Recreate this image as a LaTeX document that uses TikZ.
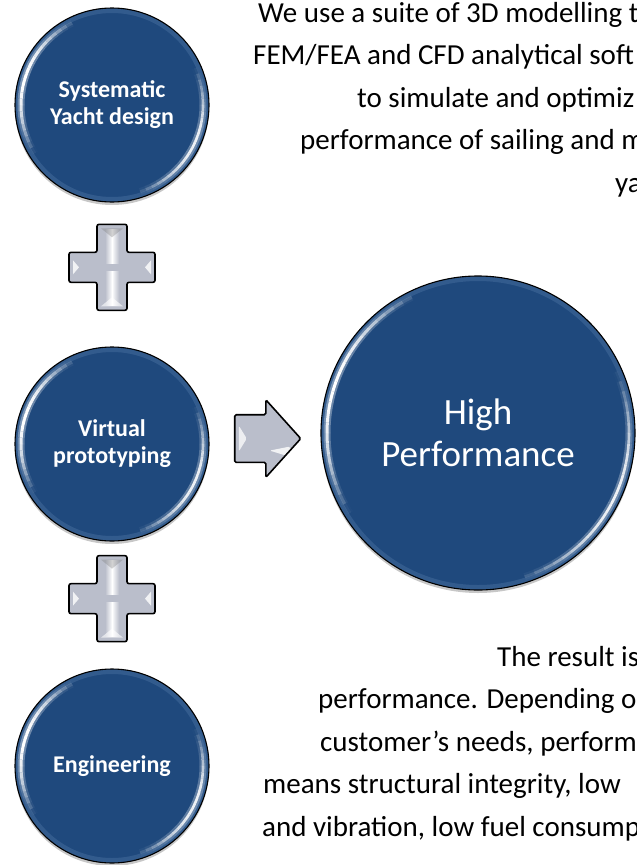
\documentclass[tikz,border=0pt]{standalone}
\usepackage{fontspec}
\setmainfont{Carlito}
\usetikzlibrary{shapes.arrows,positioning,calc}

\definecolor{ballblue}{RGB}{31,73,125}
\definecolor{rimblue}{RGB}{110,145,190}
\definecolor{glossgray}{RGB}{186,190,203}

\tikzset{
  % glossy plus sign between two balls
  plussign/.pic={
    \path[draw=black, line width=1.6pt, rounded corners=2pt, fill=glossgray]
      (-15,43) -- (15,43) -- (15,15) -- (43,15) -- (43,-15) -- (15,-15) -- (15,-43)
      -- (-15,-43) -- (-15,-15) -- (-43,-15) -- (-43,15) -- (-15,15) -- cycle;
    \shade[left color=glossgray, right color=glossgray, middle color=white] (-7,38) rectangle (7,4);
    \shade[left color=glossgray, right color=glossgray, middle color=white] (-7,-4) rectangle (7,-38);
    \fill[white, opacity=.8] (-39,-7) -- (-33,0) -- (-39,7) -- cycle;
    \fill[white, opacity=.8] (39,-7) -- (33,0) -- (39,7) -- cycle;
    \fill[black!50, opacity=.35] (-11,39) -- (0,30) -- (11,39) -- cycle;
    \fill[white, opacity=.6] (-11,-39) -- (0,-30) -- (11,-39) -- cycle;
  }
}

\begin{document}
\begin{tikzpicture}[x=1pt, y=1pt,
    ball/.style={circle, draw=black, line width=1.1pt, fill=ballblue, text=white,
        align=center, inner sep=0pt, minimum size=#1,
        preaction={fill=black, opacity=.22, transform canvas={yshift=-3pt}},
        path picture={
          \pgfmathsetmacro\rin{#1/2-6}
          \coordinate (bc) at (path picture bounding box.center);
          % soft bevel along the rim
          \draw[rimblue, line width=6pt, opacity=.25] (bc) circle[radius=#1/2-2];
          % two highlights, brightest in the middle of each arc
          \foreach \a in {0,4,...,96}{
            \pgfmathsetmacro\op{sin(\a*1.85)}
            \draw[white, line width=7pt, opacity=.35*\op]
              (bc) ++(\a+112:\rin) arc[start angle=\a+112, delta angle=4, radius=\rin];
            \draw[white, line width=3pt, opacity=\op]
              (bc) ++(\a+112:\rin) arc[start angle=\a+112, delta angle=4, radius=\rin];
            \draw[white, line width=7pt, opacity=.3*\op]
              (bc) ++(\a-76:\rin) arc[start angle=\a-76, delta angle=4, radius=\rin];
            \draw[white, line width=2.6pt, opacity=.9*\op]
              (bc) ++(\a-76:\rin) arc[start angle=\a-76, delta angle=4, radius=\rin];
          }
        }},
    stepfont/.style={font=\bfseries\fontsize{24}{27}\selectfont},
    bigfont/.style={font=\fontsize{37}{42}\selectfont},
    sidetext/.style={anchor=base west, inner sep=0pt, text=black,
        font=\fontsize{29}{34}\selectfont},
    arrowsign/.style={single arrow, draw=black, line width=1.6pt, fill=glossgray,
        minimum height=66, inner xsep=0pt, inner ysep=23, single arrow head extend=15,
        single arrow tip angle=96, rounded corners=1.5pt,
        path picture={
          \fill[white, opacity=.75] ($(path picture bounding box.west)+(4,-13)$)
            -- ++(8,13) -- ++(-8,13) -- cycle;
          \fill[white, opacity=.8] ($(path picture bounding box.center)+(2,-12)$)
            -- ++(20,4) -- ++(6,-12) -- cycle;
        }}]

  \useasboundingbox (0,0) rectangle (637,-865);
  \clip (0,0) rectangle (637,-865);

  % ====== Steps ======
  \node [ball=194, stepfont] (sys)  at (112,-105) {Systematic\\Yacht design};
  \node [ball=194, stepfont] (virt) at (112,-444) {Virtual\\prototyping};
  \node [ball=194, stepfont] (eng)  at (112,-766) {Engineering};

  % ====== Result ======
  \node [ball=314, bigfont] (perf) at (478,-433) {High\\Performance};

  % ====== Signs ======
  \pic (plusA) at ($(sys.south)!0.45!(virt.north)$) {plussign};
  \pic (plusB) at ($(virt.south)!0.45!(eng.north)$) {plussign};
  \node [arrowsign, anchor=tail] (goes) at ($(virt.east)!0.22!(perf.west)+(0,3)$) {};

  % ====== Texts ======
  \foreach \x/\txt [count=\i] in {258/{We use a suite of 3D modelling t},
      253/{FEM/FEA and CFD analytical soft}, 357/{to simulate and optimiz},
      300/{performance of sailing and m}, 615/{ya}}
    \node [sidetext] (tools-\i) at (\x,{-22-42.5*(\i-1)}) {\txt};

  \foreach \x/\txt [count=\i] in {497/{The result is},
      318/{performance. Depending o}, 320/{customer’s needs, perform},
      263/{means structural integrity, low}, 262/{and vibration, low fuel consump}}
    \node [sidetext] (result-\i) at (\x,{-666-42.5*(\i-1)}) {\txt};
\end{tikzpicture}
\end{document}
